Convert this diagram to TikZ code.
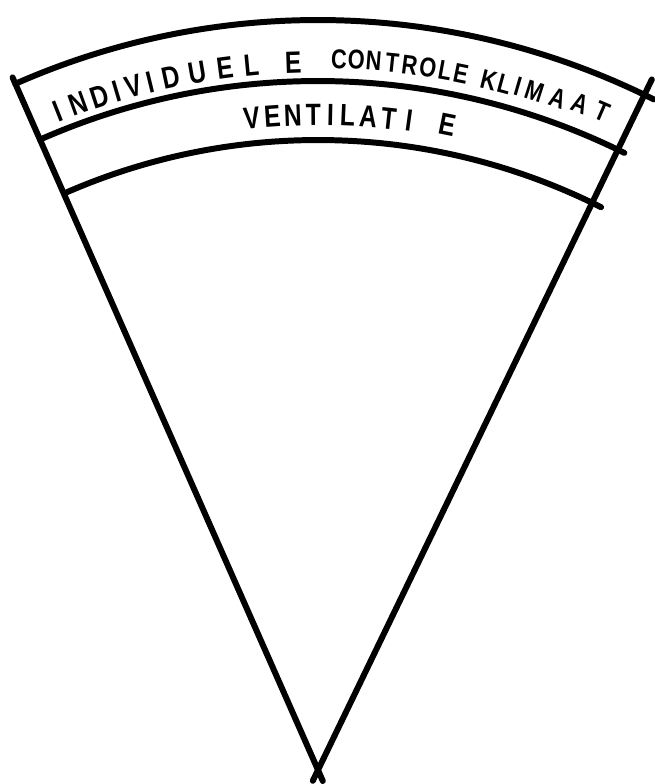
\documentclass[tikz,border=0pt]{standalone}
\usepackage{fontspec}
\setmainfont{Liberation Sans}
\newfontfamily\handfont[FakeStretch=0.8]{Liberation Sans}

\begin{document}
\begin{tikzpicture}[
    x=0.02cm, y=0.02cm,
    rim/.style={line width=3.4pt, line cap=round},
    side/.style={line width=3.4pt, line cap=round},
    letter/.style={anchor=center, inner sep=0pt, font=\handfont\bfseries\fontsize{17.5}{19}\selectfont},
    smallletter/.style={letter, font=\handfont\bfseries\fontsize{15.5}{17}\selectfont}
]
    \useasboundingbox (-318,-14) rectangle (336,770);

    % Wedge corners
    \coordinate (apex) at (0,0);
    \coordinate (lefttop) at (113.8:757);
    \coordinate (righttop) at (64.2:767);
    \coordinate (leftend) at (4.8,-11);
    \coordinate (rightend) at (-5.2,-10.8);

    % Sides, crossing at the apex
    \draw[side] (lefttop) -- (apex) -- (leftend);
    \draw[side] (righttop) -- (apex) -- (rightend);

    % Bands
    \draw[rim] (113.8:750) arc[start angle=113.8, end angle=63.4, radius=750];
    \draw[rim] (113.8:689) arc[start angle=113.8, end angle=63.6, radius=689];
    \draw[rim] (113.5:630) arc[start angle=113.5, end angle=63.3, radius=630];

    % Upper band label
    \foreach \ch/\ang [count=\i] in {I/111.6, N/109.8, D/108.0, I/106.5, V/105.1, I/103.7,
                                     D/102.0, U/99.8, E/97.5, L/95.4, E/92.0}
        \node[letter, rotate=\ang-90] (ind\i) at (\ang:708) {\ch};
    \foreach \ch/\ang [count=\i] in {C/88.3, O/86.9, N/85.5, T/84.0, R/82.6, O/81.1, L/79.7, E/78.4}
        \node[smallletter, rotate=\ang-90] (con\i) at (\ang:711) {\ch};
    \foreach \ch/\ang/\rad [count=\i] in {K/76.1/711, L/74.8/711, I/73.7/712, M/72.3/712,
                                          A/70.3/713, A/68.5/716, T/66.6/717}
        \node[smallletter, rotate=\ang-90] (kli\i) at (\ang:\rad) {\ch};

    % Lower band label
    \foreach \ch/\ang/\rad [count=\i] in {V/95.8/655, E/94.0/655, N/92.2/655, T/90.4/655, I/88.9/655,
                                          L/87.4/655, A/85.6/655, T/83.8/655, I/82.0/656, E/78.6/658}
        \node[letter, rotate=\ang-90] (ven\i) at (\ang:\rad) {\ch};

\end{tikzpicture}
\end{document}
